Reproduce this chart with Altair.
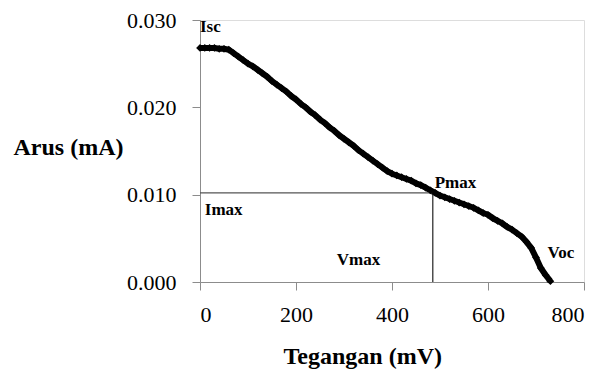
import altair as alt
import pandas as pd

# I-V curve (mV, mA)
voltage = [0, 10, 20, 30, 40, 50, 60, 70, 80, 90, 100, 110, 120, 130, 140, 150,
           160, 170, 180, 190, 200, 210, 220, 230, 240, 250, 260, 270, 280, 290,
           300, 310, 320, 330, 340, 350, 360, 370, 380, 390, 400, 410, 420, 430,
           440, 450, 460, 470, 480, 490, 500, 510, 520, 530, 540, 550, 560, 570,
           580, 590, 600, 610, 620, 630, 640, 650, 660, 670, 680, 690, 700, 710,
           720, 730]
current = [0.0268, 0.0268, 0.0268, 0.0268, 0.0267, 0.0267, 0.0266, 0.0262, 0.0258,
           0.0254, 0.0250, 0.0247, 0.0243, 0.0239, 0.0235, 0.0230, 0.0226, 0.0222,
           0.0218, 0.0213, 0.0209, 0.0204, 0.0200, 0.0195, 0.0191, 0.0186, 0.0182,
           0.0177, 0.0173, 0.0168, 0.0164, 0.0160, 0.0156, 0.0151, 0.0147, 0.0143,
           0.0139, 0.0135, 0.0131, 0.0127, 0.0124, 0.0122, 0.0120, 0.0118, 0.0116,
           0.0113, 0.0111, 0.0108, 0.0105, 0.0102, 0.0099, 0.0097, 0.0095, 0.0093,
           0.0091, 0.0089, 0.0087, 0.0085, 0.0082, 0.0079, 0.0077, 0.0073, 0.0070,
           0.0067, 0.0063, 0.0060, 0.0056, 0.0052, 0.0046, 0.0039, 0.0028, 0.0016,
           0.0008, 0.0001]

# Maximum power point
v_max = 485
i_max = 0.0102

# Annotations
ann_text = ["Isc", "Imax", "Pmax", "Vmax", "Voc"]
ann_x = [0, 10, 489, 285, 724]
ann_y = [0.0286, 0.0077, 0.0108, 0.0020, 0.0027]

x_ticks = [0, 200, 400, 600, 800]
y_ticks = [0.0, 0.01, 0.02, 0.03]

FONT = "Liberation Serif"

curve = pd.DataFrame({"v": voltage, "i": current})
ann = pd.DataFrame({"t": ann_text, "v": ann_x, "i": ann_y})
hline = pd.DataFrame({"v": [0], "v2": [v_max], "i": [i_max]})
vline = pd.DataFrame({"v": [v_max], "i": [0.0], "i2": [i_max]})

xs = alt.Scale(domain=[0, 800], nice=False)
ys = alt.Scale(domain=[0, 0.03], nice=False)

x_axis = alt.Axis(values=x_ticks, format="d", grid=False, domainColor="#8c8c8c",
                  tickColor="#8c8c8c", tickSize=8, labelFont=FONT, labelFontSize=22,
                  labelColor="#000", labelPadding=14, title="Tegangan (mV)",
                  titleFont=FONT, titleFontSize=24, titleFontWeight="bold",
                  titleColor="#000", titleAlign="left", titleAnchor="start",
                  titleBaseline="alphabetic", titleX=83, titleY=81)
y_axis = alt.Axis(values=y_ticks, format=".3f", grid=False, domainColor="#8c8c8c",
                  tickColor="#8c8c8c", tickSize=8, labelFont=FONT, labelFontSize=22,
                  labelColor="#000", labelPadding=16, title="Arus (mA)",
                  titleFont=FONT, titleFontSize=24, titleFontWeight="bold",
                  titleColor="#000", titleAngle=0, titleAlign="left",
                  titleBaseline="alphabetic", titleX=-187, titleY=134)

band = alt.Chart(curve).mark_line(color="#000", strokeWidth=6, strokeJoin="round").encode(
    x=alt.X("v:Q", scale=xs, axis=x_axis),
    y=alt.Y("i:Q", scale=ys, axis=y_axis),
)

pts = alt.Chart(curve).mark_point(shape="diamond", filled=True, size=60,
                                  color="#000", opacity=1).encode(
    x=alt.X("v:Q", scale=xs),
    y=alt.Y("i:Q", scale=ys),
)

h = alt.Chart(hline).mark_rule(color="#555555", strokeWidth=1.2).encode(
    x=alt.X("v:Q", scale=xs), x2="v2:Q", y=alt.Y("i:Q", scale=ys))
v = alt.Chart(vline).mark_rule(color="#222222", strokeWidth=1.2).encode(
    x=alt.X("v:Q", scale=xs), y=alt.Y("i:Q", scale=ys), y2="i2:Q")

txt = alt.Chart(ann).mark_text(font=FONT, fontSize=17, fontWeight="bold",
                               align="left", baseline="alphabetic", color="#000").encode(
    x=alt.X("v:Q", scale=xs), y=alt.Y("i:Q", scale=ys), text="t:N")

chart = alt.layer(band, h, v, pts, txt).properties(
    width=384, height=262,
    autosize=alt.AutoSizeParams(type="none"),
    padding={"left": 200, "top": 20, "right": 22, "bottom": 87},
).configure_view(stroke=None).configure(background="white")

chart.save("out.html", embed_options={"renderer": "svg", "actions": False})
